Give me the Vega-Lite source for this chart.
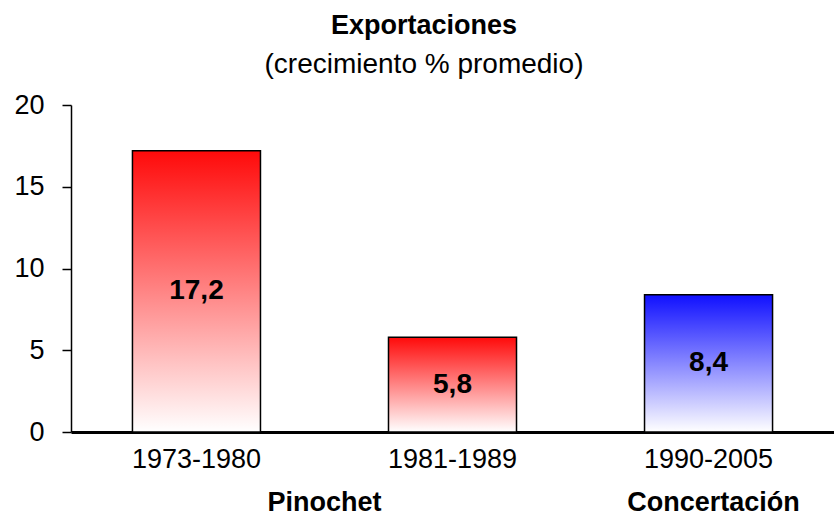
{
  "$schema": "https://vega.github.io/schema/vega-lite/v6.json",
  "width": 763,
  "height": 327,
  "autosize": "none",
  "padding": {"left": 71, "top": 105, "right": 0, "bottom": 92},
  "background": "white",
  "config": {
    "font": "Liberation Sans",
    "view": {"stroke": null},
    "locale": {"number": {"decimal": ",", "thousands": ".", "grouping": [3], "currency": ["", " €"]}}
  },
  "title": {
    "text": "Exportaciones",
    "subtitle": "(crecimiento % promedio)",
    "anchor": "middle",
    "frame": "bounds",
    "font": "Liberation Sans",
    "fontSize": 27,
    "fontWeight": "bold",
    "color": "black",
    "subtitleFont": "Liberation Sans",
    "subtitleFontSize": 28,
    "subtitleColor": "black",
    "subtitlePadding": 11,
    "offset": 11
  },
  "data": {
    "values": [
      {"periodo": "1973-1980", "valor": 17.2, "bloque": "Pinochet"},
      {"periodo": "1981-1989", "valor": 5.8, "bloque": "Pinochet"},
      {"periodo": "1990-2005", "valor": 8.4, "bloque": "Concertación"}
    ]
  },
  "layer": [
    {
      "transform": [{"filter": "datum.bloque == 'Pinochet'"}],
      "mark": {
        "type": "bar",
        "stroke": "black",
        "strokeWidth": 1.5,
        "fill": {"gradient": "linear", "x1": 0, "y1": 0, "x2": 0, "y2": 1,
          "stops": [{"offset": 0, "color": "#ff0a0a"}, {"offset": 1, "color": "#ffffff"}]}
      },
      "encoding": {
        "x": {
          "field": "periodo", "type": "nominal", "sort": null,
          "scale": {"domain": ["1973-1980", "1981-1989", "1990-2005"], "paddingInner": 0.5, "paddingOuter": 0.24},
          "axis": {
            "orient": "bottom", "title": null, "labelAngle": 0,
            "domainColor": "black", "domainWidth": 3, "ticks": false, "tickSize": 0,
            "labelFontSize": 27, "labelColor": "black", "labelPadding": 14, "labelFont": "Liberation Sans"
          }
        },
        "y": {
          "field": "valor", "type": "quantitative",
          "scale": {"domain": [0, 20], "nice": false},
          "axis": {
            "title": null, "values": [0, 5, 10, 15, 20], "grid": false,
            "domainColor": "black", "domainWidth": 1.5,
            "tickColor": "black", "tickWidth": 1.5, "tickSize": 9,
            "labelFontSize": 27, "labelColor": "black", "labelPadding": 18, "labelFont": "Liberation Sans"
          }
        }
      }
    },
    {
      "transform": [{"filter": "datum.bloque == 'Concertación'"}],
      "mark": {
        "type": "bar",
        "stroke": "black",
        "strokeWidth": 1.5,
        "fill": {"gradient": "linear", "x1": 0, "y1": 0, "x2": 0, "y2": 1,
          "stops": [{"offset": 0, "color": "#1010ff"}, {"offset": 1, "color": "#ffffff"}]}
      },
      "encoding": {
        "x": {
          "field": "periodo", "type": "nominal", "sort": null,
          "axis": {
            "orient": "bottom", "title": null, "labelAngle": 0,
            "values": ["1990-2005"], "labelExpr": "'Concertación'",
            "domain": false, "ticks": false, "tickSize": 0, "labelOffset": 5,
            "labelFontSize": 27, "labelFontWeight": "bold", "labelColor": "black",
            "labelPadding": 57, "labelFont": "Liberation Sans"
          }
        },
        "y": {
          "field": "valor", "type": "quantitative",
          "scale": {"domain": [0, 20], "nice": false},
          "axis": null
        }
      }
    },
    {
      "mark": {"type": "text", "fontSize": 28, "fontWeight": "bold", "color": "black", "baseline": "middle", "font": "Liberation Sans"},
      "encoding": {
        "x": {
          "field": "periodo", "type": "nominal", "sort": null,
          "axis": {
            "orient": "bottom", "title": null, "labelAngle": 0,
            "values": ["1973-1980"], "labelExpr": "'Pinochet'",
            "domain": false, "ticks": false, "tickSize": 0, "labelOffset": 128,
            "labelFontSize": 27, "labelFontWeight": "bold", "labelColor": "black",
            "labelPadding": 57, "labelFont": "Liberation Sans"
          }
        },
        "y": {
          "field": "valor", "type": "quantitative",
          "scale": {"domain": [0, 40], "nice": false},
          "axis": null
        },
        "text": {"field": "valor", "type": "quantitative", "format": ".1f"}
      }
    }
  ],
  "resolve": {"scale": {"y": "independent"}, "axis": {"x": "independent"}}
}
